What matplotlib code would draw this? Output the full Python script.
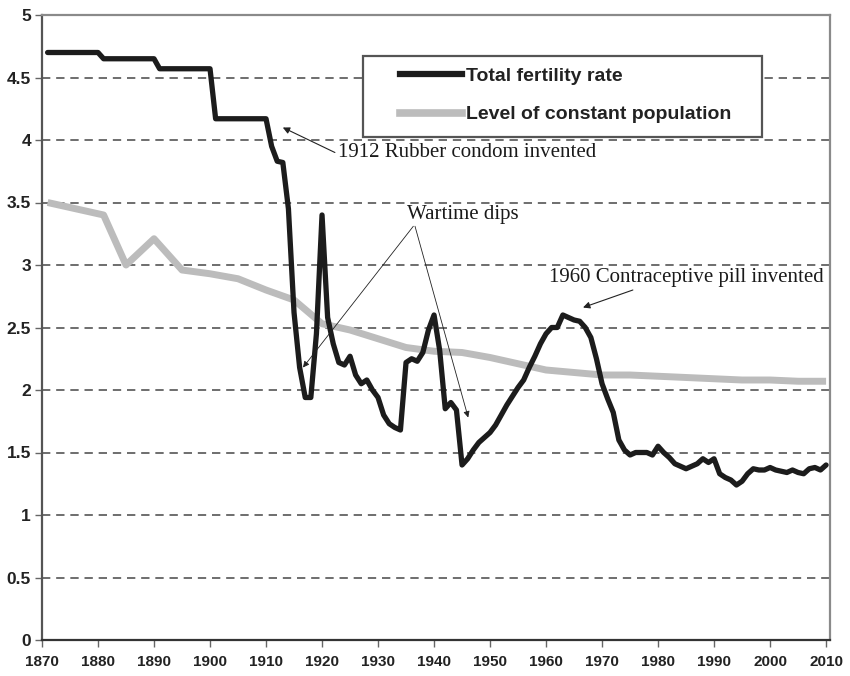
import matplotlib
matplotlib.use("Agg")
import matplotlib.pyplot as plt
from matplotlib.patches import Rectangle
from matplotlib.lines import Line2D

# Total fertility rate (children per woman)
tfr_years = [1871, 1880, 1881, 1890, 1891, 1900, 1901, 1910, 1911, 1912, 1913,
             1914, 1915, 1916, 1917, 1918, 1919, 1920, 1921, 1922, 1923, 1924,
             1925, 1926, 1927, 1928, 1929, 1930, 1931, 1932, 1933, 1934, 1935,
             1936, 1937, 1938, 1939, 1940, 1941, 1942, 1943, 1944, 1945, 1946,
             1947, 1948, 1949, 1950, 1951, 1952, 1953, 1954, 1955, 1956, 1957,
             1958, 1959, 1960, 1961, 1962, 1963, 1964, 1965, 1966, 1967, 1968,
             1969, 1970, 1971, 1972, 1973, 1974, 1975, 1976, 1977, 1978, 1979,
             1980, 1981, 1982, 1983, 1984, 1985, 1986, 1987, 1988, 1989, 1990,
             1991, 1992, 1993, 1994, 1995, 1996, 1997, 1998, 1999, 2000, 2001,
             2002, 2003, 2004, 2005, 2006, 2007, 2008, 2009, 2010]
tfr_values = [4.70, 4.70, 4.65, 4.65, 4.57, 4.57, 4.17, 4.17, 3.95, 3.83, 3.82,
              3.45, 2.62, 2.18, 1.94, 1.94, 2.45, 3.40, 2.58, 2.37, 2.22, 2.20,
              2.27, 2.12, 2.05, 2.08, 2.00, 1.94, 1.80, 1.73, 1.70, 1.68, 2.22,
              2.25, 2.23, 2.30, 2.48, 2.60, 2.32, 1.85, 1.90, 1.84, 1.40, 1.45,
              1.52, 1.58, 1.62, 1.66, 1.72, 1.80, 1.88, 1.95, 2.02, 2.08, 2.18,
              2.27, 2.37, 2.45, 2.50, 2.50, 2.60, 2.58, 2.56, 2.55, 2.50, 2.42,
              2.25, 2.05, 1.93, 1.82, 1.60, 1.52, 1.48, 1.50, 1.50, 1.50, 1.48,
              1.55, 1.50, 1.46, 1.41, 1.39, 1.37, 1.39, 1.41, 1.45, 1.42, 1.45,
              1.33, 1.30, 1.28, 1.24, 1.27, 1.33, 1.37, 1.36, 1.36, 1.38, 1.36,
              1.35, 1.34, 1.36, 1.34, 1.33, 1.37, 1.38, 1.36, 1.40]

# Replacement level (level of constant population)
rep_years = [1871, 1881, 1885, 1890, 1895, 1900, 1905, 1910, 1915, 1920, 1925,
             1930, 1935, 1940, 1945, 1950, 1955, 1960, 1965, 1970, 1975, 1980,
             1985, 1990, 1995, 2000, 2005, 2010]
rep_values = [3.50, 3.40, 3.00, 3.21, 2.96, 2.93, 2.89, 2.80, 2.72, 2.53, 2.48,
              2.41, 2.34, 2.31, 2.30, 2.26, 2.21, 2.16, 2.14, 2.12, 2.12, 2.11,
              2.10, 2.09, 2.08, 2.08, 2.07, 2.07]

x_ticks = list(range(1870, 2011, 10))
y_ticks = [0, 0.5, 1, 1.5, 2, 2.5, 3, 3.5, 4, 4.5, 5]
y_tick_labels = ["0", "0.5", "1", "1.5", "2", "2.5", "3", "3.5", "4", "4.5", "5"]

series_labels = ["Total fertility rate", "Level of constant population"]

tick_font = ["Liberation Sans"]
serif_font = ["Liberation Serif", "DejaVu Serif"]

fig = plt.figure(figsize=(8.5, 6.76), dpi=100)
ax = fig.add_axes([42 / 850, 36 / 676, 788 / 850, 625 / 676])

black = "#1c1c1c"
grey = "#bcbcbc"

ax.plot(rep_years, rep_values, color=grey, lw=5.0, solid_joinstyle="round",
        solid_capstyle="butt", zorder=3)
ax.plot(tfr_years, tfr_values, color=black, lw=3.8, solid_joinstyle="round",
        solid_capstyle="round", zorder=3)

ax.set_xlim(1870, 2010.7)
ax.set_ylim(0, 5)
ax.set_xticks(x_ticks)
ax.set_xticklabels([str(t) for t in x_ticks], family=tick_font,
                   fontweight="bold", fontsize=11, color="#222222")
ax.set_yticks(y_ticks)
ax.set_yticklabels(y_tick_labels, family=tick_font, fontweight="bold",
                   fontsize=12.5, color="#222222")
ax.tick_params(axis="x", direction="out", length=5, width=1, color="#666666",
               pad=6)
ax.tick_params(axis="y", direction="out", length=5, width=1, color="#666666",
               pad=3)

for v in y_ticks[1:-1]:
    ax.axhline(v, color="#555555", lw=1.2, ls=(0, (5, 3.5)), zorder=1)

ax.spines["top"].set_color("#8a8a8a")
ax.spines["top"].set_linewidth(1.6)
ax.spines["right"].set_color("#8a8a8a")
ax.spines["right"].set_linewidth(1.6)
ax.spines["left"].set_color("#555555")
ax.spines["left"].set_linewidth(1.6)
ax.spines["bottom"].set_color("#333333")
ax.spines["bottom"].set_linewidth(1.6)

# Legend box
ax.add_patch(Rectangle((321 / 788, 503 / 625), 399 / 788, 81 / 625,
                       transform=ax.transAxes, facecolor="white",
                       edgecolor="#555555", lw=1.6, zorder=4))
handles = [Line2D([], [], color=black, lw=4.5),
           Line2D([], [], color=grey, lw=5.5)]
leg = ax.legend(handles, series_labels, loc="center left",
                bbox_to_anchor=(348 / 788, (640 - 95.5) / 625),
                frameon=False, borderpad=0, handlelength=3.2,
                handletextpad=0.2, labelspacing=1.05,
                prop={"family": "Liberation Sans", "weight": "bold",
                      "size": 14})
for t in leg.get_texts():
    t.set_color("#222222")
leg.set_zorder(5)

arrow_kw = dict(arrowstyle="-|>", lw=0.8, color="#222222",
                mutation_scale=10, shrinkA=0, shrinkB=0)
line_kw = dict(arrowstyle="-|>", lw=0.6, color="#222222",
               mutation_scale=9, shrinkA=0, shrinkB=0)

# 1912 annotation
ax.annotate("", xy=(1913.0, 4.10), xytext=(1922.3, 3.90),
            arrowprops=arrow_kw, zorder=6)
ax.text(1922.9, 3.90, "1912 Rubber condom invented", family=serif_font,
        fontsize=15, color="#1a1a1a", ha="left", va="center", zorder=6)

# Wartime dips
ax.text(1945.2, 3.40, "Wartime dips", family=serif_font, fontsize=15,
        color="#1a1a1a", ha="center", va="center", zorder=6)
ax.annotate("", xy=(1916.6, 2.18), xytext=(1936.3, 3.31),
            arrowprops=line_kw, zorder=6)
ax.annotate("", xy=(1946.1, 1.78), xytext=(1936.6, 3.31),
            arrowprops=line_kw, zorder=6)

# 1960 annotation
ax.annotate("", xy=(1966.6, 2.66), xytext=(1975.5, 2.80),
            arrowprops=arrow_kw, zorder=6)
ax.text(1960.5, 2.90, "1960 Contraceptive pill invented", family=serif_font,
        fontsize=15, color="#1a1a1a", ha="left", va="center", zorder=6)

fig.savefig("out.png", dpi=100)
